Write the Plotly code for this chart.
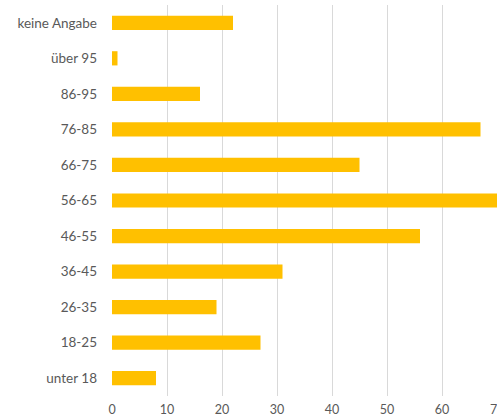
import plotly.graph_objects as go

categories = ["unter 18", "18-25", "26-35", "36-45", "46-55", "56-65",
              "66-75", "76-85", "86-95", "über 95", "keine Angabe"]
values = [8, 27, 19, 31, 56, 71, 45, 67, 16, 1, 22]
x_ticks = [0, 10, 20, 30, 40, 50, 60]
x_last_tick = 70

fig = go.Figure(go.Bar(
    x=values, y=categories, orientation="h",
    marker=dict(color="#FFC000", line=dict(width=0)),
))
fig.update_layout(
    width=497, height=420,
    margin=dict(l=112, r=0, t=5, b=24),
    paper_bgcolor="white", plot_bgcolor="white",
    bargap=0.6, showlegend=False,
    font=dict(family="Lato", size=13.5, color="#595959"),
)
fig.update_xaxes(range=[0, 70], tickvals=x_ticks + [x_last_tick], showgrid=True,
                 gridcolor="#D9D9D9", gridwidth=1, zeroline=False,
                 showline=False, ticklabelstandoff=4,
                 tickfont=dict(size=12.5))
fig.update_yaxes(categoryorder="array", categoryarray=categories,
                 showgrid=False, showline=False, ticklabelstandoff=14)
# last tick label, partly cut off at the page edge as in the reference
fig.add_annotation(x=x_last_tick, xref="x", y=0, yref="paper",
                   text=str(x_last_tick), showarrow=False, yanchor="top",
                   xanchor="center", yshift=-4,
                   font=dict(size=12.5, color="#595959", family="Lato"))
fig.write_html("out.html")
